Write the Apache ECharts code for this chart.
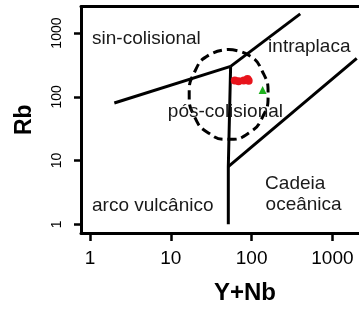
<!DOCTYPE html>
<html>
<head>
<meta charset="utf-8">
<script src="https://cdn.jsdelivr.net/npm/echarts@6/dist/echarts.min.js"></script>
<style>
  html, body { margin: 0; padding: 0; background: #fff; }
  #chart { width: 359px; height: 310px; }
</style>
</head>
<body>
<div id="chart"></div>
<script>
// Pearce (1984) Rb vs Y+Nb
const xTicks = [1, 10, 100, 1000]
const yTicks = [1, 10, 100, 1000]

// field boundaries
const lineSynVag = [[2, 80], [55, 300]]
const lineSynWpg = [[55, 300], [400, 2000]]
const lineVagWpg = [[55, 300], [51.5, 8], [51.5, 1]]
const lineWpgOrg = [[51.5, 8], [2000, 400]]

// pos-colisional field (dashed), read around the outline
const postColField = [
  [52, 552], [91, 453], [137, 245], [160, 109], [137, 48.5], [91, 26.7],
  [52, 21.5], [29.7, 26.7], [19.7, 48.5], [16.9, 109], [19.7, 245], [29.7, 453], [52, 552]
]

// samples
const redSamples = [[62, 181], [69, 175], [80, 181], [89, 190], [92, 178]]
const greenSamples = [[137, 128]]

// field names
const fieldNames = ['sin-colisional', 'intraplaca', 'pós-colisional', 'arco vulcânico', 'Cadeia', 'oceânica']
const fieldPos = [[1.06, 811], [160, 613], [9.2, 59], [1.06, 1.94], [147, 4.33], [149, 2.01]]

const chart = echarts.init(document.getElementById('chart'))

const boundary = (data) => ({
  type: 'line',
  data: data,
  symbol: 'none',
  silent: true,
  z: 3,
  lineStyle: { color: '#000', width: 3 }
})

const labelFont = { fontFamily: 'Liberation Sans, Arial, sans-serif', color: '#000' }

chart.setOption({
  animation: false,
  grid: { left: 81, right: 0, top: 6.5, bottom: 69 },
  xAxis: [{
    type: 'log',
    min: 0.774,
    max: 2134,
    name: 'Y+Nb',
    nameLocation: 'middle',
    nameGap: 48,
    nameTextStyle: Object.assign({ fontSize: 24, fontWeight: 'bold', padding: [0, 0, 0, 50] }, labelFont),
    axisLine: { lineStyle: { color: '#000', width: 3 } },
    axisTick: { customValues: xTicks, length: 8, lineStyle: { width: 2.5, color: '#000' } },
    axisLabel: Object.assign({ customValues: xTicks, fontSize: 19, margin: 16, formatter: (v) => String(v) }, labelFont),
    splitLine: { show: false }
  }, {
    type: 'log',
    position: 'top',
    min: 0.774,
    max: 2134,
    axisLine: { lineStyle: { color: '#000', width: 3 } },
    axisTick: { show: false },
    axisLabel: { show: false },
    splitLine: { show: false }
  }],
  yAxis: {
    type: 'log',
    min: 0.73,
    max: 2612,
    name: 'Rb',
    nameLocation: 'middle',
    nameGap: 45,
    nameTextStyle: Object.assign({ fontSize: 23, fontWeight: 'bold' }, labelFont),
    axisLine: { lineStyle: { color: '#000', width: 3 } },
    axisTick: { customValues: yTicks, length: 7, lineStyle: { width: 2.5, color: '#000' } },
    axisLabel: Object.assign({ customValues: yTicks, fontSize: 14, rotate: 90, margin: 17, formatter: (v) => String(v) }, labelFont),
    splitLine: { show: false }
  },
  series: [
    {
      type: 'line',
      data: postColField,
      smooth: 0.55,
      symbol: 'none',
      silent: true,
      z: 2,
      lineStyle: { color: '#000', width: 3, type: [9, 5] }
    },
    boundary(lineSynVag),
    boundary(lineSynWpg),
    boundary(lineVagWpg),
    boundary(lineWpgOrg),
    {
      type: 'scatter',
      data: fieldPos.map((p, i) => ({ value: p, name: fieldNames[i] })),
      symbolSize: 0,
      silent: true,
      z: 4,
      itemStyle: { opacity: 1 },
      label: Object.assign({
        show: true,
        position: 'right',
        distance: 0,
        fontSize: 19,
        formatter: (p) => p.name
      }, labelFont, { color: '#1a1a1a' })
    },
    {
      type: 'scatter',
      data: redSamples,
      symbol: 'circle',
      symbolSize: 8,
      z: 5,
      itemStyle: { color: '#e8141c', opacity: 1 }
    },
    {
      type: 'scatter',
      data: greenSamples,
      symbol: 'triangle',
      symbolSize: 8,
      z: 5,
      itemStyle: { color: '#1fb31f', opacity: 1 }
    }
  ]
})
</script>
</body>
</html>
